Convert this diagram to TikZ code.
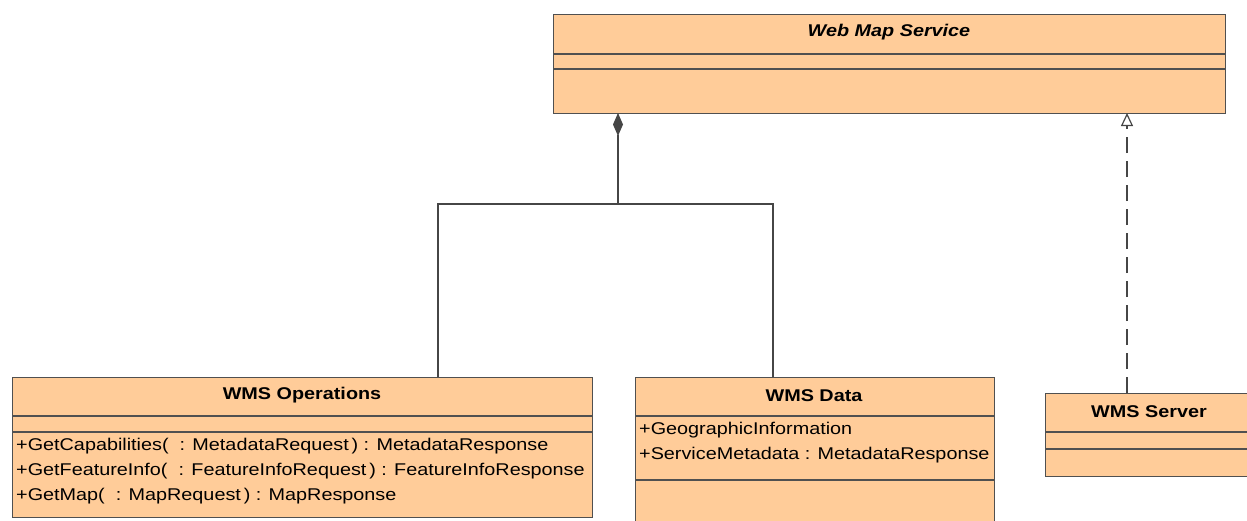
\documentclass[tikz,border=0pt]{standalone}
\usepackage{fontspec}
\setmainfont{Liberation Sans}[FakeStretch=1.165]
\usetikzlibrary{arrows.meta}
\definecolor{boxfill}{RGB}{255,204,153}
\definecolor{boxline}{RGB}{80,80,80}
\definecolor{conn}{RGB}{70,70,70}
\begin{document}
\begin{tikzpicture}[x=1pt,y=-1pt,
  classbox/.style={draw=boxline,fill=boxfill,line width=1.2pt,rectangle,inner sep=0pt,anchor=north west},
  divider/.style={draw=boxline,line width=1.2pt},
  ctitle/.style={inner sep=0pt,font=\fontsize{17pt}{20pt}\selectfont\bfseries},
  member/.style={inner sep=0pt,anchor=west,font=\fontsize{17pt}{20pt}\selectfont},
  connector/.style={draw=conn,line width=1.2pt}
]
\useasboundingbox (0,0) rectangle (1247,520);
\clip (0,0) rectangle (1247,520);

% Web Map Service
\node[classbox,minimum width=672pt,minimum height=99pt] (wms) at (553,14) {};
\draw[divider] (553,54) -- (1225,54);
\draw[divider] (553,69) -- (1225,69);
\node[ctitle,font=\fontsize{17pt}{20pt}\selectfont\bfseries\itshape] (wmst) at (889,32.5) {Web Map Service};

% WMS Operations
\node[classbox,minimum width=580pt,minimum height=140pt] (ops) at (12,377) {};
\draw[divider] (12,416) -- (592,416);
\draw[divider] (12,432) -- (592,432);
\node[ctitle] (opst) at (302,395.5) {WMS Operations};
\node[member] (op1) at (16,446) {+GetCapabilities(\ \ : MetadataRequest\,) : MetadataResponse};
\node[member] (op2) at (16,471) {+GetFeatureInfo(\ \ : FeatureInfoRequest\,) : FeatureInfoResponse};
\node[member] (op3) at (16,496) {+GetMap(\ \ : MapRequest\,) : MapResponse};

% WMS Data
\node[classbox,minimum width=359pt,minimum height=160pt] (data) at (635,377) {};
\draw[divider] (635,416) -- (994,416);
\draw[divider] (635,480) -- (994,480);
\node[ctitle] (datat) at (814,395.5) {WMS Data};
\node[member] (d1) at (639,430) {+GeographicInformation};
\node[member] (d2) at (639,455) {+ServiceMetadata : MetadataResponse};

% WMS Server
\node[classbox,minimum width=230pt,minimum height=83pt] (srv) at (1045,393) {};
\draw[divider] (1045,432) -- (1275,432);
\draw[divider] (1045,449) -- (1275,449);
\node[ctitle] (srvt) at (1149,411.5) {WMS Server};

% connectors
\coordinate (junc) at (618,204);
\coordinate (opsTop) at (438,377);
\coordinate (dataTop) at (773,377);
\coordinate (wmsComp) at (618,113);
\coordinate (wmsReal) at (1127,113);
\coordinate (srvTop) at (1127,393);
\draw[connector] (opsTop) |- (junc) -| (dataTop);
\draw[connector,-{Diamond[length=23pt,width=10pt,fill=conn]}] (junc) -- (wmsComp);
\draw[connector,dash pattern=on 16pt off 8pt,-{Triangle[open,length=13pt,width=12pt,fill=white]}] (srvTop) -- (wmsReal);
\end{tikzpicture}
\end{document}
